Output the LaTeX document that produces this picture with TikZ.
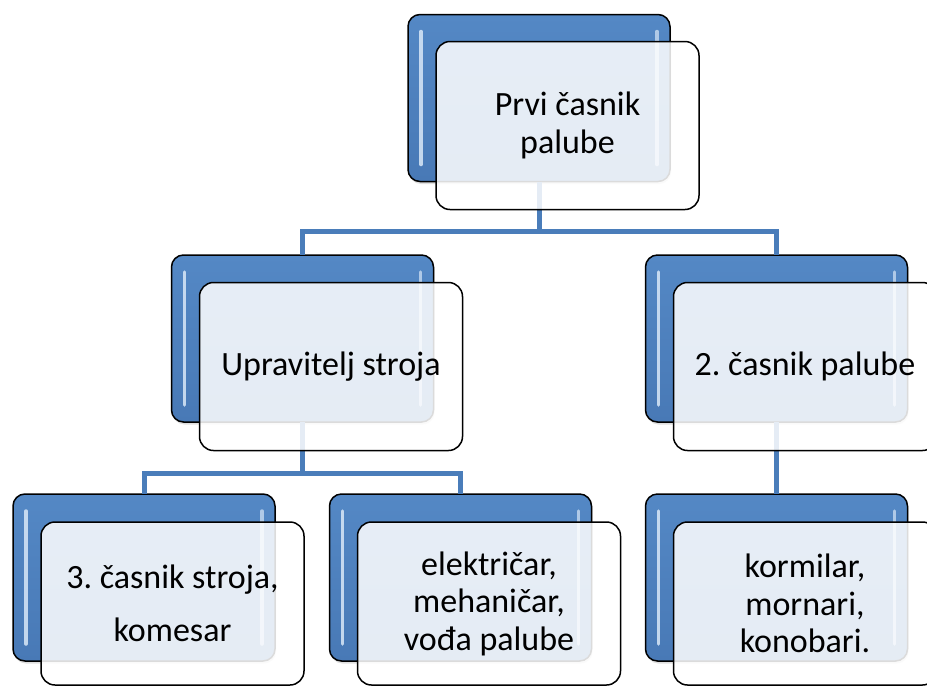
\documentclass[tikz,border=0pt]{standalone}
\usepackage{fontspec}
\setmainfont{Carlito}
\frenchspacing
\usetikzlibrary{shadows}
\definecolor{boxblue}{HTML}{4F81BD}
\definecolor{boxtop}{HTML}{5488C5}
\definecolor{boxbot}{HTML}{4879B6}
\definecolor{connblue}{HTML}{4A7DBA}
\definecolor{glint}{HTML}{E2EEFB}
\begin{document}
\begin{tikzpicture}[x=1pt,y=-1pt,
  back/.style={draw=black, line width=1.5pt, rounded corners=12pt,
    minimum width=262pt, minimum height=167pt, outer sep=0pt, inner sep=0pt,
    top color=boxtop, bottom color=boxbot,
    drop shadow={opacity=0.25, shadow xshift=1pt, shadow yshift=-2.5pt},
    path picture={
      \draw[line width=3.5pt, glint, opacity=0.8, line cap=round]
        ([xshift=13pt,yshift=-17pt]path picture bounding box.north west) --
        ([xshift=13pt,yshift=17pt]path picture bounding box.south west);
      \draw[line width=3.5pt, glint, opacity=0.65, line cap=round]
        ([xshift=-13pt,yshift=-17pt]path picture bounding box.north east) --
        ([xshift=-13pt,yshift=17pt]path picture bounding box.south east);
    }},
  front/.style={draw=black, line width=1.5pt, rounded corners=14pt,
    fill=white, fill opacity=0.86, text opacity=1, text=black,
    minimum width=263pt, minimum height=168pt, outer sep=0pt, inner sep=0pt,
    align=center, font={\fontsize{34}{37.5}\selectfont}},
  frontlow/.style={front, minimum height=163pt},
  conn/.style={draw=connblue, line width=5pt}]
\useasboundingbox (0,0) rectangle (927,686);
\clip (0,0) rectangle (927,686);
\fill[white] (0,0) rectangle (927,686);

% back (blue) boxes
\node[back] (b1) at (539,98) {};
\node[back] (b2) at (302.5,338.5) {};
\node[back] (b3) at (776.5,338.5) {};
\node[back] (b4) at (144,577.5) {};
\node[back] (b5) at (460.5,577.5) {};
\node[back] (b6) at (776.5,577.5) {};

% connectors
\draw[conn] (b1.south) -- ++(0,50) -| (b2.north);
\draw[conn] (b1.south) -- ++(0,50) -| (b3.north);
\draw[conn] (b2.south) -- ++(0,51) -| (b4.north);
\draw[conn] (b2.south) -- ++(0,51) -| (b5.north);
\draw[conn] (b3.south) -- (b6.north);

% front boxes
\node[front] (f1) at (567.5,125.5) {Prvi časnik\\palube};
\node[front] (f2) at (331,366.5) {Upravitelj stroja};
\node[front] (f3) at (805,366.5) {2. časnik palube};
\node[frontlow] (f4) at (172.5,603.5) {3. časnik stroja,\\[16pt]komesar};
\node[frontlow] (f5) at (489,603.5) {električar,\\mehaničar,\\vođa palube};
\node[frontlow] (f6) at (805,603.5) {kormilar,\\mornari,\\konobari.};
\end{tikzpicture}
\end{document}
